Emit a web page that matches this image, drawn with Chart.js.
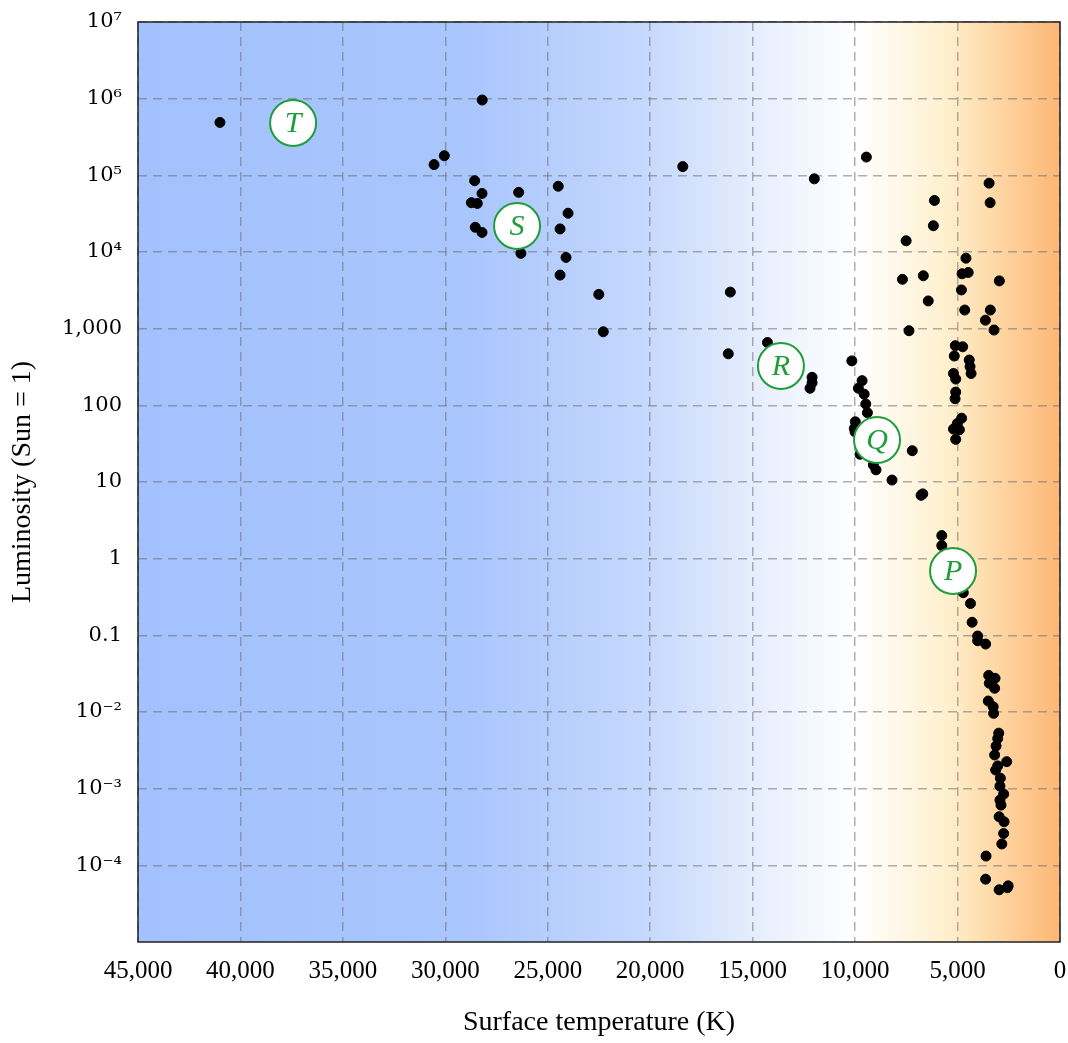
<!DOCTYPE html>
<html>
<head>
<meta charset="utf-8">
<script src="https://cdn.jsdelivr.net/npm/chart.js@4"></script>
<style>
html, body { margin: 0; padding: 0; background: #fff; }
#wrap { width: 1068px; height: 1043px; position: relative; }
</style>
</head>
<body>
<div id="wrap"><canvas id="hr-chart"></canvas></div>
<script>
// star temperatures (K) and luminosities (Sun = 1)
const temperatures = [
  41000, 28200, 30050, 30550, 28570, 28210, 28730, 28440, 28540, 28210,
  26420, 26310, 24490, 24010, 24400, 24110, 24400, 22510, 22290, 18410,
  11990, 9450, 3460, 3410, 6130, 6180, 7510, 4590, 4780, 4480,
  2960, 7690, 6670, 6430, 4810, 4650, 3400, 3640, 3220, 7370,
  16090, 16190, 14280, 10160, 12100, 12200, 12100, 5110, 4750, 5160,
  4430, 4390, 4340, 5200, 5090, 9660, 9840, 9560, 9480, 9400,
  9990, 10040, 10000, 9760, 9110, 8980, 7210, 8200, 6780, 6700,
  5090, 5120, 4800, 5010, 5200, 4910, 5090, 5770, 5770, 4720,
  4370, 4290, 4020, 4020, 3630, 3480, 3170, 3450, 3190, 3500,
  3260, 3240, 2990, 3040, 3120, 3190, 2600, 3040, 3140, 2910,
  2930, 2750, 2930, 2880, 2970, 2730, 2750, 2840, 3610, 3630,
  2970, 2570, 2530
];
const luminosities = [
  4.9e5, 9.6e5, 1.8e5, 1.38e5, 8.5e4, 5.8e4, 4.4e4, 4.3e4, 2.1e4, 1.8e4,
  6.0e4, 9.6e3, 7.2e4, 3.2e4, 2.0e4, 8.5e3, 5.0e3, 2.8e3, 910, 1.3e5,
  9.0e4, 1.73e5, 7.9e4, 4.4e4, 4.7e4, 2.2e4, 1.4e4, 8.3e3, 5.2e3, 5.4e3,
  4.2e3, 4.4e3, 4.9e3, 2.3e3, 3.2e3, 1.75e3, 1.75e3, 1.29e3, 960, 940,
  3.0e3, 470, 660, 380, 232, 167, 197, 600, 580, 440,
  390, 320, 260, 260, 220, 210, 167, 140, 104, 80,
  61, 50, 45, 23, 16.7, 14.4, 25.6, 10.6, 6.7, 7.0,
  149, 122, 68, 58, 49, 48, 36, 2.0, 1.48, 0.36,
  0.26, 0.148, 0.098, 0.085, 0.077, 0.030, 0.0275, 0.0237, 0.0204, 0.0139,
  0.0117, 0.0096, 0.0053, 0.0045, 0.0036, 0.00275, 0.00225, 0.00198, 0.00175, 0.00137,
  0.00108, 8.5e-4, 7.1e-4, 6.1e-4, 4.3e-4, 3.7e-4, 2.6e-4, 1.9e-4, 1.32e-4, 6.6e-5,
  4.8e-5, 5.1e-5, 5.4e-5
];

// circled region labels
const labelNames = ['T', 'S', 'R', 'Q', 'P'];
const labelTemps = [37430, 26500, 13620, 8930, 5220];
const labelLums = [4.82e5, 2.18e4, 326, 35.3, 0.69];

const xTickValues = [45000, 40000, 35000, 30000, 25000, 20000, 15000, 10000, 5000, 0];
const xTickLabels = ['45,000', '40,000', '35,000', '30,000', '25,000', '20,000', '15,000', '10,000', '5,000', '0'];
const yTickValues = [1e7, 1e6, 1e5, 1e4, 1e3, 1e2, 10, 1, 0.1, 1e-2, 1e-3, 1e-4];
const yTickLabels = ['10⁷', '10⁶', '10⁵', '10⁴', '1,000', '100', '10', '1', '0.1', '10⁻²', '10⁻³', '10⁻⁴'];

const green = '#1f9d3a';

const stars = temperatures.map((t, i) => ({ x: t, y: luminosities[i] }));
const circles = labelTemps.map((t, i) => ({ x: t, y: labelLums[i] }));

const backdrop = {
  id: 'backdrop',
  beforeDraw(chart) {
    const { ctx, chartArea: a } = chart;
    const g = ctx.createLinearGradient(a.left, 0, a.right, 0);
    g.addColorStop(0, '#a3c1fd');
    g.addColorStop(0.36, '#a9c6fd');
    g.addColorStop(0.55, '#c6d8fd');
    g.addColorStop(0.67, '#e6eefe');
    g.addColorStop(0.78, '#ffffff');
    g.addColorStop(0.88, '#ffefcc');
    g.addColorStop(0.94, '#fed39e');
    g.addColorStop(1, '#fdb675');
    ctx.save();
    ctx.fillStyle = g;
    ctx.fillRect(a.left, a.top, a.right - a.left, a.bottom - a.top);
    ctx.restore();
  },
  afterDatasetsDraw(chart) {
    const { ctx, chartArea: a } = chart;
    const meta = chart.getDatasetMeta(1);
    ctx.save();
    ctx.fillStyle = green;
    ctx.font = 'italic 30px "Liberation Serif", serif';
    ctx.textAlign = 'center';
    ctx.textBaseline = 'middle';
    meta.data.forEach((pt, i) => {
      ctx.fillText(labelNames[i], pt.x, pt.y + 1);
    });
    ctx.strokeStyle = '#222';
    ctx.lineWidth = 1.5;
    ctx.strokeRect(a.left, a.top, a.right - a.left, a.bottom - a.top);
    ctx.restore();
  }
};

// keep the plot box where the picture has it
function noPad(scale) {
  scale.paddingLeft = 0;
  scale.paddingRight = 0;
  scale.paddingTop = 0;
  scale.paddingBottom = 0;
}

const ctx = document.getElementById('hr-chart');
const hrChart = new Chart(ctx, {
  type: 'scatter',
  data: {
    datasets: [
      {
        label: 'Stars',
        data: stars,
        backgroundColor: '#000',
        borderColor: '#000',
        pointRadius: 5,
        pointHoverRadius: 5,
        order: 1
      },
      {
        label: 'Regions',
        data: circles,
        backgroundColor: '#fff',
        borderColor: green,
        borderWidth: 2,
        pointRadius: 23,
        pointHoverRadius: 23,
        order: 0
      }
    ]
  },
  options: {
    responsive: true,
    maintainAspectRatio: false,
    animation: false,
    layout: { autoPadding: false, padding: { top: 22, right: 8, left: 0, bottom: 0 } },
    plugins: {
      legend: { display: false },
      tooltip: { enabled: false }
    },
    scales: {
      x: {
        type: 'linear',
        min: 0,
        max: 45000,
        reverse: true,
        afterBuildTicks: (scale) => { scale.ticks = xTickValues.map(v => ({ value: v })); },
        afterFit: (scale) => { scale.height = 101; noPad(scale); },
        ticks: {
          padding: 14,
          color: '#000',
          font: { family: '"Liberation Serif", serif', size: 25 },
          callback: (v) => xTickLabels[xTickValues.indexOf(v)]
        },
        grid: { color: 'rgba(110,110,110,0.55)', lineWidth: 1.5, drawTicks: false },
        border: { display: false, dash: [9, 6] },
        title: {
          display: true,
          text: 'Surface temperature (K)',
          color: '#000',
          font: { family: '"Liberation Serif", serif', size: 28 },
          padding: { top: 0, bottom: 4 }
        }
      },
      y: {
        type: 'logarithmic',
        min: 1e-5,
        max: 1e7,
        afterBuildTicks: (scale) => { scale.ticks = yTickValues.map(v => ({ value: v })); },
        afterFit: (scale) => { scale.width = 138; noPad(scale); },
        ticks: {
          padding: 16,
          color: '#000',
          font: { family: '"DejaVu Serif", serif', size: 21 },
          callback: (v) => {
            const i = yTickValues.findIndex(t => Math.abs(Math.log10(t) - Math.log10(v)) < 1e-6);
            return i >= 0 ? yTickLabels[i] : '';
          }
        },
        grid: { color: 'rgba(110,110,110,0.55)', lineWidth: 1.5, drawTicks: false },
        border: { display: false, dash: [9, 6] },
        title: {
          display: true,
          text: 'Luminosity (Sun = 1)',
          color: '#000',
          font: { family: '"Liberation Serif", serif', size: 28 },
          padding: { top: 6, bottom: 0 }
        }
      }
    }
  },
  plugins: [backdrop]
});
</script>
</body>
</html>
